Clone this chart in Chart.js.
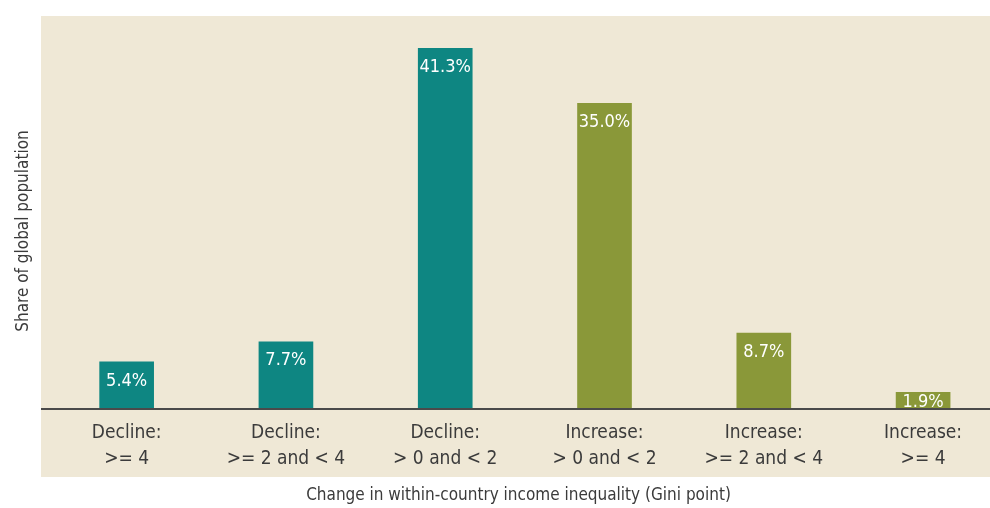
<!DOCTYPE html>
<html>
<head>
<meta charset="utf-8">
<script src="https://cdn.jsdelivr.net/npm/chart.js@4/dist/chart.umd.min.js"></script>
<style>
  html, body { margin: 0; padding: 0; background: #fff; overflow: hidden; }
  #wrap { position: relative; width: 990px; height: 508px; }
</style>
</head>
<body>
<div id="wrap"><canvas id="giniChart"></canvas></div>
<script>
const categories = [
    ['Decline:', '>= 4'],
    ['Decline:', '>= 2 and < 4'],
    ['Decline:', '> 0 and < 2'],
    ['Increase:', '> 0 and < 2'],
    ['Increase:', '>= 2 and < 4'],
    ['Increase:', '>= 4']
];
const shares = [5.4, 7.7, 41.3, 35.0, 8.7, 1.9];
const barColors = ['#0e8682', '#0e8682', '#0e8682', '#8a9839', '#8a9839', '#8a9839'];

const FONT = "'DejaVu Sans Condensed', 'Liberation Sans Narrow', sans-serif";

// beige panel, baseline, value labels, y title
const panelPlugin = {
    id: 'panel',
    beforeDraw(chart) {
        const ctx = chart.ctx;
        ctx.save();
        ctx.fillStyle = '#efe8d6';
        ctx.fillRect(41, 16, 949, 461);
        ctx.restore();
    },
    afterDatasetsDraw(chart) {
        const ctx = chart.ctx;
        const base = chart.scales.y.getPixelForValue(0);
        const area = chart.chartArea;
        const meta = chart.getDatasetMeta(0);

        // labels inside the bar tops, cut at the baseline
        ctx.save();
        ctx.beginPath();
        ctx.rect(area.left - 10, area.top, area.right - area.left + 20, base - area.top);
        ctx.clip();
        ctx.fillStyle = '#ffffff';
        ctx.font = '18px ' + FONT;
        ctx.textAlign = 'center';
        ctx.textBaseline = 'middle';
        meta.data.forEach((bar, i) => {
            const y = Math.min(bar.y + 19, base - 7);
            ctx.fillText(shares[i].toFixed(1) + '%', bar.x, y);
        });
        ctx.restore();

        ctx.save();
        ctx.strokeStyle = '#4a4a4a';
        ctx.lineWidth = 2;
        ctx.beginPath();
        ctx.moveTo(41, base);
        ctx.lineTo(990, base);
        ctx.stroke();

        ctx.translate(24, 231);
        ctx.rotate(-Math.PI / 2);
        ctx.fillStyle = '#3b3b3b';
        ctx.font = '17px ' + FONT;
        ctx.textAlign = 'center';
        ctx.textBaseline = 'middle';
        ctx.fillText('Share of global population', 0, 0);
        ctx.restore();
    }
};

new Chart(document.getElementById('giniChart'), {
    type: 'bar',
    data: {
        datasets: [{
            data: shares.map((v, i) => ({ x: i, y: v })),
            backgroundColor: barColors,
            barThickness: 54
        }]
    },
    options: {
        responsive: true,
        maintainAspectRatio: false,
        animation: false,
        layout: { padding: { left: 47, right: 0, top: 16, bottom: 2 } },
        plugins: { legend: { display: false }, tooltip: { enabled: false } },
        scales: {
            x: {
                type: 'linear',
                offset: false,
                min: -0.5,
                max: 5.42,
                grid: { display: false, drawTicks: false, offset: false },
                border: { display: false },
                ticks: {
                    stepSize: 1,
                    includeBounds: false,
                    autoSkip: false,
                    maxRotation: 0,
                    padding: 11,
                    color: '#3b3b3b',
                    font: { family: FONT, size: 19, lineHeight: 1.37 },
                    callback: (v) => Number.isInteger(v) && categories[v] ? categories[v] : ''
                },
                title: {
                    display: true,
                    text: 'Change in within-country income inequality (Gini point)',
                    color: '#3b3b3b',
                    font: { family: FONT, size: 17 },
                    padding: { top: 12, bottom: 0 }
                },
                afterFit(scale) {
                    scale.paddingLeft = 0;
                    scale.paddingRight = 0;
                    scale.height = 97;
                }
            },
            y: {
                min: 0,
                max: 45,
                grid: { display: false, drawTicks: false },
                border: { display: false },
                ticks: { display: false },
                afterFit(scale) { scale.width = 0; }
            }
        }
    },
    plugins: [panelPlugin]
});
</script>
</body>
</html>
